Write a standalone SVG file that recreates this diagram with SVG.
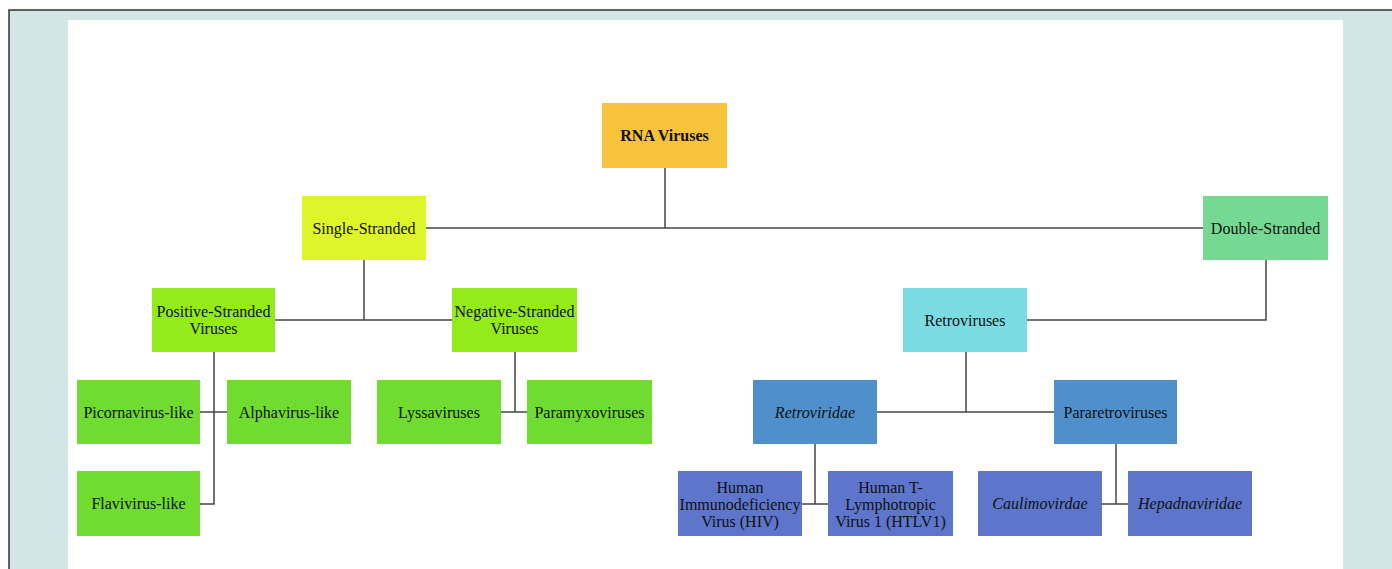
<svg xmlns="http://www.w3.org/2000/svg" width="1392" height="569" viewBox="0 0 1392 569">
<style>
text{font-family:"Liberation Serif","Times New Roman",serif;font-size:16px;fill:#111;text-anchor:middle;dominant-baseline:central}
.it{font-style:italic}
.b{font-weight:bold}
.c line,.c path{stroke:#444;stroke-width:1.5;fill:none}
</style>
<rect x="0" y="0" width="1392" height="569" fill="#ffffff"/>
<rect x="9" y="10" width="1420" height="600" fill="#d3e5e4" stroke="#333" stroke-width="1.5"/>
<rect x="68" y="20" width="1275" height="560" fill="#ffffff"/>
<g class="c" id="connectors">
<path d="M665 168V228"/>
<path d="M426 228H1203"/>
<path d="M364 260V320"/>
<path d="M275 320H452"/>
<path d="M1266 260V320H1027"/>
<path d="M214 352V504H200"/>
<path d="M200 412H227"/>
<path d="M515 352V412"/>
<path d="M501 412H527"/>
<path d="M966 352V412"/>
<path d="M877 412H1054"/>
<path d="M815 444V504"/>
<path d="M802 504H828"/>
<path d="M1116 444V504"/>
<path d="M1102 504H1128"/>
</g>
<g id="rna"><rect x="602" y="103" width="125" height="65" fill="#f7c33a"/><text class="b" x="664.5" y="135.5">RNA Viruses</text></g>
<g id="single"><rect x="302" y="196" width="124" height="64" fill="#ddf529"/><text x="364" y="228">Single-Stranded</text></g>
<g id="double"><rect x="1203" y="196" width="125" height="64" fill="#75d993"/><text x="1265.5" y="228">Double-Stranded</text></g>
<g id="positive"><rect x="152" y="288" width="123" height="64" fill="#94eb1a"/><text x="213.5" y="311.5">Positive-Stranded</text><text x="213.5" y="328.5">Viruses</text></g>
<g id="negative"><rect x="452" y="288" width="125" height="64" fill="#94eb1a"/><text x="514.5" y="311.5">Negative-Stranded</text><text x="514.5" y="328.5">Viruses</text></g>
<g id="retroviruses"><rect x="903" y="288" width="124" height="64" fill="#7adce0"/><text x="965" y="320">Retroviruses</text></g>
<g id="picorna"><rect x="77" y="380" width="123" height="64" fill="#6fdc2f"/><text x="138.5" y="412">Picornavirus-like</text></g>
<g id="alpha"><rect x="227" y="380" width="124" height="64" fill="#6fdc2f"/><text x="289" y="412">Alphavirus-like</text></g>
<g id="flavi"><rect x="77" y="471" width="123" height="65" fill="#6fdc2f"/><text x="138.5" y="503.5">Flavivirus-like</text></g>
<g id="lyssa"><rect x="377" y="380" width="124" height="64" fill="#6fdc2f"/><text x="439" y="412">Lyssaviruses</text></g>
<g id="paramyxo"><rect x="527" y="380" width="125" height="64" fill="#6fdc2f"/><text x="589.5" y="412">Paramyxoviruses</text></g>
<g id="retroviridae"><rect x="753" y="380" width="124" height="64" fill="#4f8fcc"/><text class="it" x="815" y="412">Retroviridae</text></g>
<g id="pararetro"><rect x="1054" y="380" width="123" height="64" fill="#4f8fcc"/><text x="1115.5" y="412">Pararetroviruses</text></g>
<g id="hiv"><rect x="678" y="471" width="124" height="65" fill="#5d76cb"/><text x="740" y="487">Human</text><text x="740" y="504">Immunodeficiency</text><text x="740" y="521">Virus (HIV)</text></g>
<g id="htlv"><rect x="828" y="471" width="125" height="65" fill="#5d76cb"/><text x="890.5" y="487">Human T-</text><text x="890.5" y="504">Lymphotropic</text><text x="890.5" y="521">Virus 1 (HTLV1)</text></g>
<g id="caulimo"><rect x="978" y="471" width="124" height="65" fill="#5d76cb"/><text class="it" x="1040" y="503.5">Caulimovirdae</text></g>
<g id="hepadna"><rect x="1128" y="471" width="124" height="65" fill="#5d76cb"/><text class="it" x="1190" y="503.5">Hepadnaviridae</text></g>
</svg>
